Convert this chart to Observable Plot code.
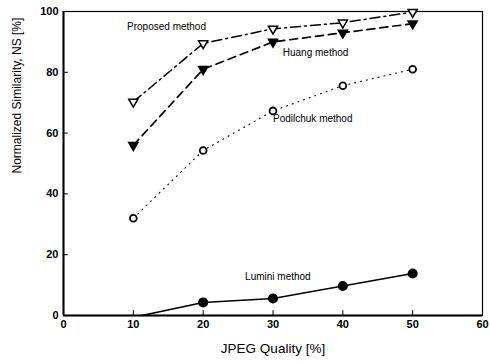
<!DOCTYPE html>
<html>
<head>
<meta charset="utf-8">
<script src="https://cdn.jsdelivr.net/npm/d3@7"></script>
<script src="https://cdn.jsdelivr.net/npm/@observablehq/plot@0.6"></script>
<style>
  body { margin: 0; background: #fff; }
  svg { font-family: "Liberation Sans", Arial, sans-serif; }
</style>
</head>
<body>
<div id="chart"></div>
<script>
const quality = [10, 20, 30, 40, 50];
const proposed = [70.3, 89.5, 94.3, 96.3, 99.8];
const huang = [56, 81, 90, 93, 96];
const podilchuk = [32, 54.3, 67.3, 75.6, 81];
const lumini = [-0.6, 4.3, 5.6, 9.7, 13.8];
const xTicks = [0, 10, 20, 30, 40, 50, 60];
const yTicks = [0, 20, 40, 60, 80, 100];
const seriesLabels = ["Proposed method", "Huang method", "Podilchuk method", "Lumini method"];
const labelX = [9.1, 31.4, 30, 26];
const labelY = [95, 86.5, 64.8, 12.6];

const toRows = (vals) => quality.map((q, i) => ({q, v: vals[i]}));
const rowsP = toRows(proposed), rowsH = toRows(huang), rowsPo = toRows(podilchuk), rowsL = toRows(lumini);
const labels = seriesLabels.map((t, i) => ({t, x: labelX[i], y: labelY[i]}));

const chart = Plot.plot({
  width: 490,
  height: 363,
  marginLeft: 63,
  marginRight: 8,
  marginTop: 11,
  marginBottom: 48,
  style: {fontFamily: "'Liberation Sans', Arial, sans-serif", background: "#fff", color: "#000"},
  x: {domain: [0, 60], ticks: xTicks},
  y: {domain: [0, 100], ticks: yTicks},
  marks: [
    Plot.frame({stroke: "#000", strokeWidth: 1.2}),
    Plot.ruleX([0], {stroke: "#000", strokeWidth: 2}),
    Plot.ruleY([0], {stroke: "#000", strokeWidth: 2}),
    Plot.ruleX(xTicks, {y1: 0, y2: 1.6, stroke: "#000", strokeWidth: 1}),
    Plot.ruleY(yTicks, {x1: 0, x2: 0.7, stroke: "#000", strokeWidth: 1}),
    Plot.axisX({ticks: xTicks, tickSize: 0, tickPadding: 5, label: null, fontSize: 11, fontWeight: "bold"}),
    Plot.axisY({ticks: yTicks, tickSize: 0, tickPadding: 5, label: null, fontSize: 11, fontWeight: "bold"}),
    Plot.text(["JPEG Quality [%]"], {frameAnchor: "bottom", dy: 37, dx: 0, fontSize: 13.5, fill: "#000"}),
    Plot.text(["Normalized Similarity, NS [%]"], {frameAnchor: "left", dx: -46, dy: 10, rotate: -90, fontSize: 12, fill: "#000"}),
    // Lumini (solid, filled circles)
    Plot.line(rowsL, {x: "q", y: "v", stroke: "#000", strokeWidth: 1.6, clip: true}),
    Plot.dot(rowsL.filter(d => d.v > 0), {x: "q", y: "v", r: 4.3, fill: "#000", stroke: "#000"}),
    // Podilchuk (dotted, open circles)
    Plot.line(rowsPo, {x: "q", y: "v", stroke: "#000", strokeWidth: 1.1, strokeDasharray: "1,5"}),
    Plot.dot(rowsPo, {x: "q", y: "v", r: 3.4, fill: "#fff", stroke: "#000", strokeWidth: 1.8}),
    // Huang (dashed, filled down triangles)
    Plot.line(rowsH, {x: "q", y: "v", stroke: "#000", strokeWidth: 1.7, strokeDasharray: "8,5"}),
    Plot.dot(rowsH, {x: "q", y: "v", symbol: "triangle", rotate: 180, r: 3.4, fill: "#000", stroke: "#000"}),
    // Proposed (dash-dot, open down triangles)
    Plot.line(rowsP, {x: "q", y: "v", stroke: "#000", strokeWidth: 1.5, strokeDasharray: "10,4,2,4"}),
    Plot.dot(rowsP, {x: "q", y: "v", symbol: "triangle", rotate: 180, r: 3.4, fill: "#fff", stroke: "#000", strokeWidth: 1.5}),
    Plot.text(labels, {x: "x", y: "y", text: "t", textAnchor: "start", fontSize: 10, fill: "#000"})
  ]
});
document.getElementById("chart").appendChild(chart);
</script>
</body>
</html>
